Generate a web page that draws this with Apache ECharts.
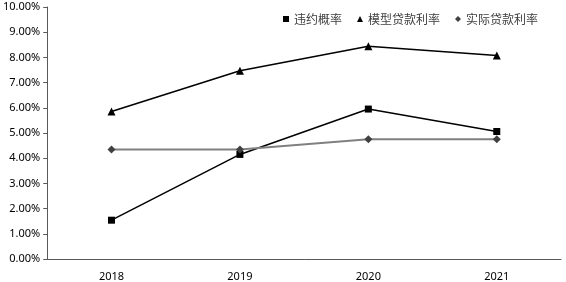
<!DOCTYPE html>
<html>
<head>
<meta charset="utf-8">
<script src="https://cdn.jsdelivr.net/npm/echarts@6/dist/echarts.min.js"></script>
<style>
  html, body { margin: 0; padding: 0; background: #fff; }
  #main { width: 566px; height: 282px; }
</style>
</head>
<body>
<div id="main"></div>
<script>
const years = ["2018", "2019", "2020", "2021"];
const defaultRate = [1.54, 4.15, 5.95, 5.06];
const modelRate = [5.85, 7.47, 8.44, 8.08];
const actualRate = [4.35, 4.35, 4.75, 4.75];

const axisColor = "#595959";
const labelFont = { fontFamily: "Noto Sans", fontSize: 11, color: "#000" };

const seriesData = [
  { name: "违约概率", data: defaultRate, symbol: "rect", size: 7, line: "#000", mark: "#000", width: 1.5 },
  { name: "模型贷款利率", data: modelRate, symbol: "triangle", size: 8, line: "#000", mark: "#000", width: 1.5 },
  { name: "实际贷款利率", data: actualRate, symbol: "diamond", size: 8, line: "#808080", mark: "#404040", width: 2 }
];

const series = seriesData.map((s) => ({
  name: s.name,
  type: "line",
  data: s.data,
  symbol: s.symbol,
  symbolSize: s.size,
  showAllSymbol: true,
  lineStyle: { color: s.line, width: s.width },
  itemStyle: { color: s.mark },
  emphasis: { disabled: true }
}));

const options = {
  animation: false,
  grid: { left: 47, right: 5, top: 7, bottom: 22, containLabel: false },
  legend: {
    top: 8,
    left: 278,
    itemWidth: 6,
    itemHeight: 6,
    itemGap: 15,
    textStyle: { fontFamily: "Noto Sans CJK SC", fontSize: 12, color: "#404040" },
    data: seriesData.map((s) => ({ name: s.name, icon: s.symbol, itemStyle: { color: s.mark } }))
  },
  xAxis: [
    {
      type: "category",
      data: years,
      boundaryGap: true,
      axisLine: { lineStyle: { color: axisColor, width: 1 } },
      axisTick: { inside: true, length: 4, lineStyle: { color: axisColor } },
      axisLabel: { ...labelFont, margin: 12 }
    },
    {
      type: "category",
      data: years,
      position: "bottom",
      boundaryGap: true,
      axisLine: { show: false },
      axisTick: { inside: true, length: 3, alignWithLabel: true, lineStyle: { color: axisColor } },
      axisLabel: { show: false }
    }
  ],
  yAxis: {
    type: "value",
    min: 0,
    max: 10,
    interval: 1,
    axisLine: { show: true, lineStyle: { color: axisColor, width: 1 } },
    axisTick: { show: true, length: 4, lineStyle: { color: axisColor } },
    splitLine: { show: false },
    axisLabel: { ...labelFont, margin: 7, formatter: (v) => v.toFixed(2) + "%" }
  },
  series
};

const myChart = echarts.init(document.querySelector("#main"));
myChart.setOption(options);
window.onresize = function() {
  myChart.resize();
};
</script>
</body>
</html>
